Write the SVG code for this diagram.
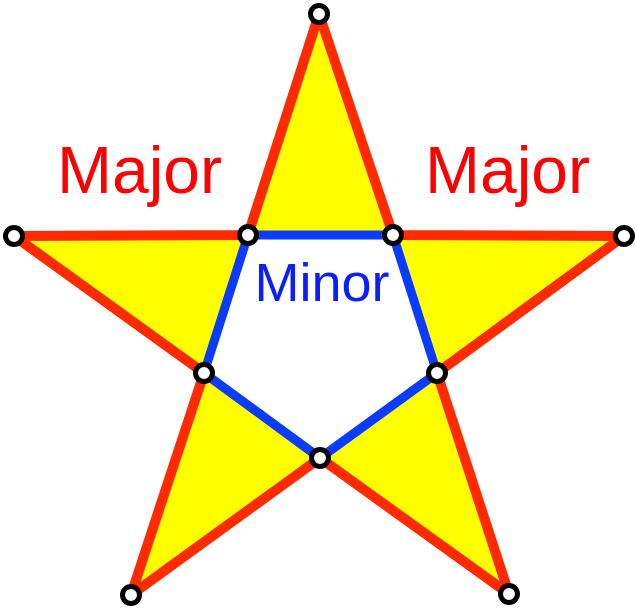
<svg xmlns="http://www.w3.org/2000/svg" width="636" height="611" viewBox="0 0 636 611">
<style>
.star{fill:#ffff00;stroke:#ff2a00;stroke-width:10;stroke-linejoin:miter;stroke-miterlimit:1}
.pent{fill:#ffffff;stroke:#0a3cff;stroke-width:9;stroke-linejoin:round}
.pt{fill:#ffffff;stroke:#000000;stroke-width:5}
.maj{font-family:"Liberation Sans",Arial,sans-serif;font-size:66px;fill:#ff0000;text-anchor:middle}
.min{font-family:"Liberation Sans",Arial,sans-serif;font-size:54px;fill:#0a1eff;text-anchor:middle}
</style>
<g id="star">
<polygon class="star" points="319,14 393,235 624,236 437,373 509,594 320,458 131,595 204,373 14,236 248,235"/>
</g>
<g id="pentagon">
<polygon class="pent" points="248,235 393,235 437,373 320,458 204,373"/>
</g>
<g id="labels">
<text class="maj" x="139.5" y="193">Major</text>
<text class="maj" x="507.5" y="193">Major</text>
<text class="min" x="322" y="301">Minor</text>
</g>
<g id="points">
<circle class="pt" cx="319" cy="14" r="8.5"/>
<circle class="pt" cx="624" cy="236" r="8.5"/>
<circle class="pt" cx="509" cy="594" r="8.5"/>
<circle class="pt" cx="131" cy="595" r="8.5"/>
<circle class="pt" cx="14" cy="236" r="8.5"/>
<circle class="pt" cx="248" cy="235" r="8.5"/>
<circle class="pt" cx="393" cy="235" r="8.5"/>
<circle class="pt" cx="437" cy="373" r="8.5"/>
<circle class="pt" cx="320" cy="458" r="8.5"/>
<circle class="pt" cx="204" cy="373" r="8.5"/>
</g>
</svg>
